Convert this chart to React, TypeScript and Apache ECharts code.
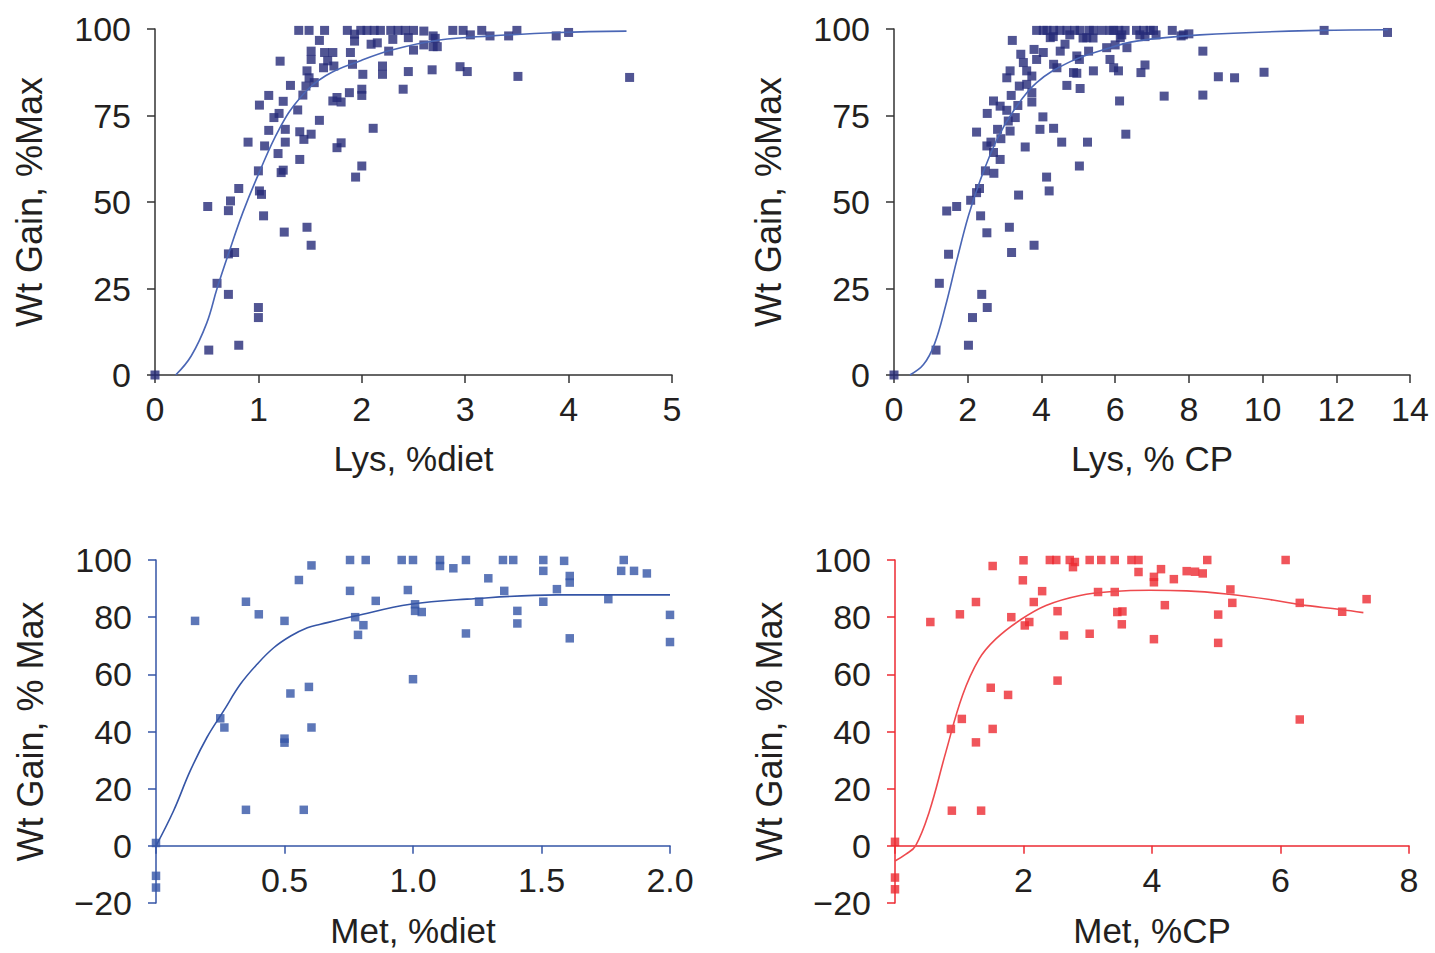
import React, { useEffect, useRef } from "react";
import * as echarts from "echarts";

const FONT = '"Liberation Sans", Arial, Helvetica, sans-serif';
const TEXT = "#231f20";
const NAVY = "#262a78";
const FIT_BLUE = "#4a66b5";
const MID_BLUE = "#3555a6";
const RED = "#ec2a32";
const FIT_RED = "#ee4a4e";
const AXIS_DARK = "#333333";

// Lys, %diet vs weight gain
const lysDietPoints: number[][] = [
  [0, 0], [0.52, 7.2], [0.81, 8.6], [1.0, 19.5], [1.0, 16.6], [0.71, 23.3], [0.6, 26.5], [0.71, 35.0], [0.77, 35.4],
  [0.51, 48.7], [0.71, 47.5], [0.73, 50.3], [0.81, 53.9], [1.0, 59], [1.01, 53.2], [1.03, 52.2], [1.05, 46],
  [1.25, 41.3], [1.47, 42.7], [1.51, 37.5], [0.9, 67.3], [1.06, 66.2], [1.01, 78], [1.1, 80.8], [1.21, 90.7],
  [1.24, 79.1], [1.15, 74.4], [1.2, 75.6], [1.1, 70.7], [1.26, 71], [1.26, 67.3], [1.19, 64], [1.22, 58.5], [1.24, 59.2],
  [1.31, 83.7], [1.38, 76.6], [1.4, 62.3], [1.4, 70.3], [1.44, 68.1], [1.51, 69.6], [1.43, 80.9], [1.46, 83.5], [1.49, 85.9],
  [1.47, 87.9], [1.51, 93.6], [1.51, 91.2], [1.54, 84.5], [1.59, 73.6], [1.59, 96.7], [1.39, 99.6], [1.49, 99.6], [1.64, 99.6],
  [1.64, 93.2], [1.67, 90.8], [1.72, 93.2], [1.73, 89.3], [1.63, 88.8], [1.72, 79.2], [1.76, 80.2], [1.8, 78.9], [1.76, 65.7], [1.8, 67.1],
  [1.88, 81.6], [1.94, 57.2], [2.0, 60.4], [1.89, 93.2], [1.91, 89.8], [1.86, 99.6], [1.93, 98.5], [1.99, 99.6], [1.93, 96.5],
  [2.01, 86.9], [2.0, 82.6], [2.0, 80.8], [2.11, 71.3], [2.09, 95.6], [2.15, 96], [2.18, 99.6], [2.28, 99.6], [2.2, 89.3], [2.2, 86.9], [2.26, 93.6],
  [2.4, 82.6], [2.05, 99.6], [2.12, 99.6], [2.35, 99.6], [2.42, 99.6], [2.5, 99.6], [2.3, 97], [2.45, 97.5],
  [2.6, 99.4], [2.69, 98], [2.88, 99.6], [2.5, 93.9], [2.6, 95.4], [2.69, 94.9], [2.45, 87.7], [2.68, 88.2], [2.95, 89.1], [3.02, 87.7],
  [2.71, 97.3], [2.73, 94.9], [2.98, 99.6], [3.05, 98.3], [3.16, 99.6], [3.24, 98], [3.42, 98], [3.5, 99.6], [3.88, 98], [4.0, 99],
  [3.51, 86.3], [4.59, 86.0],
];
const lysDietFit: number[][] = [
  [0.2, 0], [0.35, 5.5], [0.5, 15], [0.6, 25], [0.71, 35], [0.85, 47], [1.0, 58], [1.2, 71], [1.4, 80], [1.65, 86.5],
  [2.0, 91], [2.3, 94], [2.75, 96.8], [3.25, 98], [3.9, 99], [4.56, 99.4],
];

// Lys, % CP vs weight gain
const lysCpPoints: number[][] = [
  [0, 0], [1.14, 7.2], [2.02, 8.6], [2.13, 16.6], [2.38, 23.3], [2.53, 19.5], [1.23, 26.5], [1.48, 34.9], [1.43, 47.4], [1.7, 48.7],
  [2.08, 50.5], [2.24, 52.7], [2.32, 53.9], [2.35, 46], [2.52, 41.1], [3.13, 42.7], [3.19, 35.4], [3.38, 52], [3.8, 37.5], [4.14, 57.2],
  [4.21, 53.2], [5.03, 60.4], [2.48, 59], [2.71, 58.3], [2.52, 66.2], [2.63, 67.3], [2.88, 62.3], [2.7, 64.3], [2.9, 68.3], [2.24, 70.2],
  [2.81, 71], [3.15, 70.5], [3.1, 73.4], [3.29, 74.4], [2.53, 75.6], [2.7, 79.2], [2.88, 77.7], [3.06, 76.5], [3.18, 80.8], [3.36, 77.9],
  [3.56, 65.9], [3.74, 78.9], [3.96, 71], [4.04, 74.6], [4.33, 71.3], [4.55, 67.3], [5.25, 67.3], [6.29, 69.6], [6.12, 79.2],
  [3.06, 85.9], [3.15, 87.9], [3.4, 83.5], [3.6, 84], [3.74, 81.6], [3.44, 92.7], [3.51, 90.3], [3.6, 87.9], [3.74, 86.4], [3.21, 96.7],
  [3.8, 94.1], [4.05, 93.2], [3.87, 91.2], [3.87, 99.6], [4.05, 99.6], [4.33, 99.6], [4.24, 97.5], [4.51, 93.6], [4.33, 89.8], [4.42, 88.8],
  [4.69, 83.7], [5.05, 82.8], [4.87, 87.4], [4.96, 87.2], [4.96, 92.2], [5.03, 91.2], [5.28, 93.6], [4.69, 99.6], [5.05, 99.6], [5.41, 99.6],
  [5.23, 97.5], [4.64, 95.6], [5.41, 87.9], [5.64, 99.6], [5.96, 99.6], [6.27, 99.6], [5.77, 94.6], [5.86, 91.2], [5.96, 88.8], [6.09, 87.9],
  [6.14, 97.5], [6.32, 94.6], [6.7, 87.4], [6.77, 99.6], [6.95, 99.6], [6.81, 97.8], [7.11, 98.3], [7.55, 99.6], [7.79, 98], [8.0, 98.6],
  [6.81, 89.6], [8.38, 93.6], [8.8, 86.2], [9.24, 85.9], [10.04, 87.5], [7.33, 80.6], [8.38, 80.9], [11.67, 99.6], [13.39, 99],
  [6.0, 95.4], [4.15, 99.6], [4.5, 99.6], [4.9, 99.6], [5.3, 99.6], [4.32, 97.8], [4.77, 98.3], [5.13, 97.4], [5.4, 97.4],
  [5.86, 99.6], [6.1, 99.6], [6.18, 98.3], [6.58, 99.6], [7.04, 99.6], [6.67, 98.3], [7.85, 98.3],
];
const lysCpFit: number[][] = [
  [0.43, 0], [0.8, 3], [1.1, 9], [1.4, 20], [1.7, 33], [2.02, 46], [2.33, 56], [2.79, 68], [3.24, 76.3], [3.87, 84.5],
  [4.77, 90.5], [5.68, 94], [6.58, 96.5], [8.3, 98.3], [11.56, 99.6], [13.4, 99.8],
];

// Met, %diet vs weight gain
const metDietPoints: number[][] = [
  [0, 1], [0, -10.5], [0, -14.6], [0.152, 78.7], [0.35, 85.4], [0.4, 81], [0.35, 12.6], [0.575, 12.6], [0.25, 44.6], [0.266, 41.4],
  [0.5, 78.7], [0.5, 37.5], [0.5, 36.1], [0.523, 53.3], [0.595, 55.6], [0.605, 41.4], [0.556, 93], [0.605, 98.1], [0.755, 100],
  [0.816, 100], [0.956, 100], [0.755, 89.2], [0.855, 85.7], [0.775, 80], [0.807, 77.2], [0.786, 73.8], [0.98, 89.5],
  [1.0, 100], [1.105, 100], [1.105, 97.9], [1.157, 97.1], [1.206, 100], [1.35, 100], [1.39, 100], [1.507, 100], [1.507, 96.2],
  [1.588, 99.7], [1.61, 94.4], [1.61, 92.1], [1.82, 100], [1.81, 96.2], [1.86, 96.2], [1.91, 95.3], [1.293, 93.6], [1.008, 84.5],
  [1.008, 82.2], [1.034, 81.8], [1.257, 85.4], [1.355, 89.2], [1.406, 82.2], [1.406, 77.8], [1.56, 89.8], [1.507, 85.4], [1.76, 86.3],
  [1.206, 74.3], [1.61, 72.6], [2.0, 80.8], [2.0, 71.3], [1.0, 58.3],
];
const metDietFit: number[][] = [
  [0, 0], [0.068, 12.2], [0.133, 26.2], [0.198, 37.9], [0.263, 47.2], [0.328, 56.5], [0.393, 63.5], [0.458, 69.3], [0.524, 73.4],
  [0.589, 76.3], [0.64, 77.5], [0.775, 80.4], [0.99, 84.5], [1.21, 86.3], [1.56, 87.8], [2.0, 87.8],
];

// Met, %CP vs weight gain
const metCpPoints: number[][] = [
  [0, 1.4], [0, -11.1], [0, -15.2], [0.55, 78.3], [1.01, 81], [1.26, 85.3], [1.52, 97.9], [0.885, 12.3], [1.34, 12.3], [0.87, 40.9],
  [1.04, 44.4], [1.26, 36.2], [1.52, 40.9], [1.49, 55.3], [1.76, 52.8], [1.81, 80], [2.0, 99.9], [1.99, 92.9], [2.02, 77.1], [2.09, 78.3],
  [2.16, 85.3], [2.29, 89.1], [2.53, 82.1], [2.63, 73.6], [2.53, 57.8], [2.41, 100], [2.51, 100], [2.72, 100], [2.8, 99.3], [2.77, 97.5],
  [3.03, 100], [3.21, 100], [3.42, 100], [3.68, 100], [3.79, 100], [3.79, 95.8], [3.03, 74.2], [3.16, 88.8], [3.42, 88.8], [3.46, 81.8],
  [3.54, 82], [3.53, 77.5], [4.03, 94.1], [4.03, 92.2], [4.14, 96.8], [4.34, 93.3], [4.54, 96.1], [4.67, 95.9], [4.79, 95.3], [4.86, 100],
  [4.2, 84.2], [4.03, 72.3], [5.03, 80.9], [5.03, 71], [5.22, 89.7], [5.25, 85], [6.08, 100], [6.3, 85], [6.3, 44.2], [6.96, 81.9], [7.34, 86.3],
];
const metCpFit: number[][] = [
  [0, -5.3], [0.17, -2.9], [0.32, 0], [0.53, 11.7], [0.79, 32.7], [1.05, 52.6], [1.31, 65.4], [1.57, 72.4], [1.94, 78.9], [2.35, 84.1],
  [2.88, 87.6], [3.4, 89], [3.97, 89.4], [4.54, 89.2], [5.2, 88], [5.88, 86], [6.3, 84.4], [6.93, 82.7], [7.29, 81.6],
];

const minusFmt = (v: number) => (v < 0 ? "\u2212" + Math.abs(v) : String(v));

// bottom-row plots: the y range is -20..100, so the x axis sits at y = 0,
// which is 20/120 of the grid height above the grid's bottom edge
const BOTTOM_H = 343;
const ZERO_LIFT = -(BOTTOM_H * 20) / 120;

function xAxis(gridIndex: number, min: number, max: number, interval: number, color: string, name: string, nameGap: number, offset: number, fmt: (v: number) => string) {
  return {
    type: "value", gridIndex, min, max, interval, name, nameLocation: "middle", nameGap, offset,
    position: "bottom",
    nameTextStyle: { fontFamily: FONT, fontSize: 35, color: TEXT },
    axisLine: { show: true, onZero: false, lineStyle: { color, width: 1.5 } },
    axisTick: { show: true, length: 8, lineStyle: { color, width: 1.5 } },
    axisLabel: { margin: 17, fontFamily: FONT, fontSize: 34, color: TEXT, formatter: fmt },
    splitLine: { show: false },
  };
}

function yAxis(gridIndex: number, min: number, max: number, interval: number, color: string, name: string) {
  return {
    type: "value", gridIndex, min, max, interval, name, nameLocation: "middle", nameGap: 108, nameRotate: 90,
    nameTextStyle: { fontFamily: FONT, fontSize: 36, color: TEXT },
    axisLine: { show: true, onZero: false, lineStyle: { color, width: 1.5 } },
    axisTick: { show: true, length: 8, lineStyle: { color, width: 1.5 } },
    axisLabel: { margin: 24, fontFamily: FONT, fontSize: 34, color: TEXT, formatter: minusFmt },
    splitLine: { show: false },
  };
}

function scatter(idx: number, data: number[][], color: string, size: number) {
  return {
    type: "scatter", xAxisIndex: idx, yAxisIndex: idx, data, symbol: "rect", symbolSize: size,
    itemStyle: { color }, clip: false, z: 2,
  };
}

function fit(idx: number, data: number[][], color: string) {
  return {
    type: "line", xAxisIndex: idx, yAxisIndex: idx, data, smooth: 0.4, showSymbol: false, symbol: "none",
    lineStyle: { color, width: 1.6 }, clip: false, z: 3,
  };
}

export default function App() {
  const ref = useRef<HTMLDivElement>(null);
  useEffect(() => {
    if (!ref.current) return;
    const chart = echarts.init(ref.current, null, { renderer: "svg" });
    chart.setOption({
      animation: false,
      backgroundColor: "#ffffff",
      grid: [
        { left: 155, top: 29, width: 517, height: 346, outerBoundsMode: "none", containLabel: false },
        { left: 894, top: 29, width: 516, height: 346, outerBoundsMode: "none", containLabel: false },
        { left: 156, top: 560, width: 514, height: BOTTOM_H, outerBoundsMode: "none", containLabel: false },
        { left: 895, top: 560, width: 514, height: BOTTOM_H, outerBoundsMode: "none", containLabel: false },
      ],
      xAxis: [
        xAxis(0, 0, 5, 1, AXIS_DARK, "Lys, %diet", 66, 0, (v) => String(v)),
        xAxis(1, 0, 14, 2, AXIS_DARK, "Lys, % CP", 66, 0, (v) => String(v)),
        xAxis(2, 0, 2, 0.5, MID_BLUE, "Met, %diet", 67, ZERO_LIFT, (v) => (v === 0 ? "" : v.toFixed(1))),
        xAxis(3, 0, 8, 2, RED, "Met, %CP", 67, ZERO_LIFT, (v) => (v === 0 ? "" : String(v))),
      ],
      yAxis: [
        yAxis(0, 0, 100, 25, AXIS_DARK, "Wt Gain, %Max"),
        yAxis(1, 0, 100, 25, AXIS_DARK, "Wt Gain, %Max"),
        yAxis(2, -20, 100, 20, MID_BLUE, "Wt Gain, % Max"),
        yAxis(3, -20, 100, 20, RED, "Wt Gain, % Max"),
      ],
      series: [
        scatter(0, lysDietPoints, NAVY, 9),
        fit(0, lysDietFit, FIT_BLUE),
        scatter(1, lysCpPoints, NAVY, 9),
        fit(1, lysCpFit, FIT_BLUE),
        scatter(2, metDietPoints, MID_BLUE, 8.5),
        fit(2, metDietFit, MID_BLUE),
        scatter(3, metCpPoints, RED, 8.5),
        fit(3, metCpFit, FIT_RED),
      ],
    });
    return () => chart.dispose();
  }, []);
  return (
    <div
      ref={ref}
      style={{ position: "fixed", left: 0, top: 0, width: 1435, height: 953, background: "#ffffff" }}
    />
  );
}
